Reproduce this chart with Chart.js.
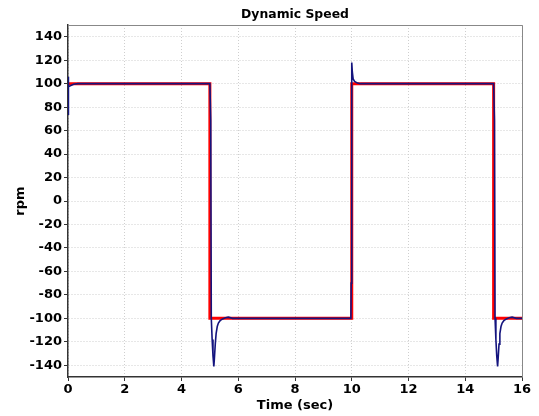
<!DOCTYPE html>
<html>
<head>
<meta charset="utf-8">
<title>Dynamic Speed</title>
<script src="https://cdn.jsdelivr.net/npm/chart.js@4.4.0/dist/chart.umd.min.js"></script>
<style>
  html, body { margin: 0; padding: 0; background: #fff; }
  #wrap { width: 539px; height: 416px; }
</style>
</head>
<body>
<div id="wrap"><canvas id="grafico" width="539" height="416"></canvas></div>
<script>
// Valores
var refTempo = [0, 5, 5, 10, 10, 15, 15, 16];
var refVelocidade = [100, 100, -100, -100, 100, 100, -100, -100];

var medTempo = [0, 0, 0.03, 0.1, 0.2, 0.35, 5.0, 5.03, 5.05, 5.08, 5.11, 5.14, 5.16, 5.19, 5.22, 5.26, 5.3, 5.36, 5.45, 5.55, 5.65, 5.8,
                9.97, 9.98, 10.0, 10.02, 10.05, 10.1, 10.2, 10.3, 15.0, 15.03, 15.05, 15.08, 15.11, 15.14, 15.16, 15.19, 15.22, 15.26, 15.3, 15.36, 15.45, 15.55, 15.65, 15.8, 16];
var medVelocidade = [74, 106, 97.5, 98.5, 99.5, 100, 100, 69, -100, -118, -132, -141, -134, -122, -113, -107, -104, -102, -100.5, -99.5, -99, -100,
                     -100, -70, 118, 110, 104, 102, 100.5, 100, 100, 69, -100, -118, -132, -141, -134, -122, -113, -107, -104, -102, -100.5, -99.5, -99, -100, -100];

var yTicks = [-140, -120, -100, -80, -60, -40, -20, 0, 20, 40, 60, 80, 100, 120, 140];
var xTicks = [0, 2, 4, 6, 8, 10, 12, 14, 16];

function pares(xs, ys) {
    var out = [];
    for (var i = 0; i < xs.length; i++) out.push({ x: xs[i], y: ys[i] });
    return out;
}

var fonte = 'DejaVu Sans';

// Moldura e título centrado na área do gráfico
var moldura = {
    id: 'moldura',
    afterDraw: function(chart) {
        var a = chart.chartArea, ctx = chart.ctx;
        ctx.save();
        ctx.strokeStyle = '#888';
        ctx.lineWidth = 1;
        ctx.beginPath();
        ctx.moveTo(a.left, a.top + 0.5);
        ctx.lineTo(a.right + 0.5, a.top + 0.5);
        ctx.lineTo(a.right + 0.5, a.bottom);
        ctx.stroke();
        ctx.fillStyle = '#000';
        ctx.font = 'bold 12.4px "' + fonte + '"';
        ctx.textAlign = 'center';
        ctx.textBaseline = 'middle';
        ctx.fillText('Dynamic Speed', (a.left + a.right) / 2, 15);
        ctx.restore();
    }
};

new Chart(document.getElementById('grafico').getContext('2d'), {
    type: 'scatter',
    data: {
        datasets: [{
            label: 'Velocidade',
            data: pares(medTempo, medVelocidade),
            showLine: true,
            borderColor: '#14147e',
            borderWidth: 1.6,
            pointRadius: 0,
            tension: 0
        }, {
            label: 'Referência',
            data: pares(refTempo, refVelocidade),
            showLine: true,
            borderColor: '#ff0000',
            borderWidth: 3,
            pointRadius: 0,
            tension: 0
        }]
    },
    options: {
        responsive: false,
        animation: false,
        layout: { padding: { top: 25, right: 17, left: 13, bottom: 0 } },
        plugins: {
            legend: { display: false },
            tooltip: { enabled: false }
        },
        scales: {
            x: {
                type: 'linear',
                min: 0,
                max: 16,
                afterBuildTicks: function(s) { s.ticks = xTicks.map(function(v) { return { value: v }; }); },
                afterFit: function(s) { s.height = 39; },
                grid: { color: '#cfcfcf', tickColor: '#333', tickLength: 4 },
                border: { color: '#333', width: 1.5, dash: [1, 2] },
                ticks: { color: '#000', font: { family: fonte, size: 13, weight: 'bold' }, padding: 1, maxRotation: 0 },
                title: { display: true, text: 'Time (sec)', color: '#000', font: { family: fonte, size: 13, weight: 'bold' }, padding: { top: 0, bottom: 3 } }
            },
            y: {
                type: 'linear',
                min: -150,
                max: 150,
                afterBuildTicks: function(s) { s.ticks = yTicks.map(function(v) { return { value: v }; }); },
                afterFit: function(s) { s.width = 55; },
                grid: { color: '#cfcfcf', tickColor: '#333', tickLength: 4 },
                border: { color: '#333', width: 1.5, dash: [1, 2] },
                ticks: { color: '#000', font: { family: fonte, size: 13, weight: 'bold' }, padding: 2 },
                title: { display: true, text: 'rpm', color: '#000', font: { family: fonte, size: 13, weight: 'bold' }, padding: 0 }
            }
        }
    },
    plugins: [moldura]
});
</script>
</body>
</html>
